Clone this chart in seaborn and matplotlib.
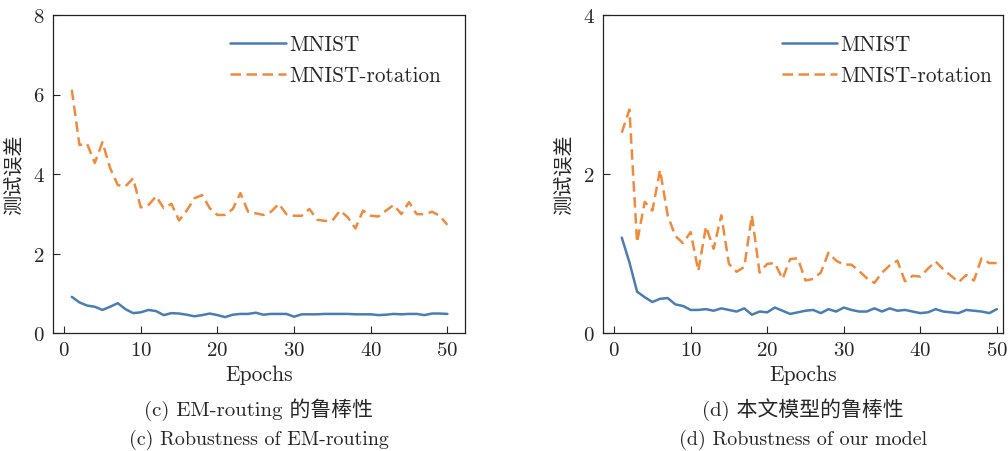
import numpy as np
import pandas as pd
import matplotlib
matplotlib.use("Agg")
import matplotlib.pyplot as plt
import seaborn as sns

epochs = list(range(1, 51))

em_mnist = [0.91, 0.77, 0.69, 0.66, 0.58, 0.66, 0.75, 0.60, 0.50, 0.52,
            0.58, 0.55, 0.45, 0.50, 0.49, 0.46, 0.42, 0.45, 0.49, 0.45,
            0.40, 0.46, 0.48, 0.48, 0.51, 0.46, 0.48, 0.48, 0.48, 0.41,
            0.47, 0.47, 0.47, 0.48, 0.48, 0.48, 0.48, 0.47, 0.47, 0.47,
            0.45, 0.46, 0.48, 0.47, 0.48, 0.48, 0.45, 0.49, 0.49, 0.48]
em_rot = [6.12, 4.73, 4.76, 4.28, 4.80, 4.15, 3.72, 3.69, 3.89, 3.16,
          3.22, 3.44, 3.14, 3.25, 2.83, 3.08, 3.39, 3.47, 3.14, 2.97,
          2.97, 3.12, 3.52, 3.05, 3.01, 2.97, 3.05, 3.25, 2.99, 2.95,
          2.95, 3.12, 2.85, 2.82, 2.83, 3.08, 2.91, 2.63, 3.08, 2.95,
          2.93, 3.08, 3.22, 2.99, 3.29, 2.99, 2.99, 3.05, 2.95, 2.72]

our_mnist = [1.20, 0.89, 0.52, 0.45, 0.39, 0.43, 0.44, 0.36, 0.34, 0.29,
             0.29, 0.30, 0.28, 0.31, 0.29, 0.27, 0.31, 0.23, 0.27, 0.26,
             0.32, 0.28, 0.24, 0.26, 0.28, 0.29, 0.25, 0.30, 0.27, 0.32,
             0.29, 0.27, 0.27, 0.31, 0.27, 0.31, 0.28, 0.29, 0.27, 0.25,
             0.26, 0.30, 0.27, 0.26, 0.25, 0.29, 0.28, 0.27, 0.25, 0.30]
our_rot = [2.52, 2.81, 1.14, 1.65, 1.54, 2.05, 1.48, 1.22, 1.13, 1.27,
           0.78, 1.34, 1.06, 1.48, 0.87, 0.77, 0.83, 1.48, 0.76, 0.87,
           0.88, 0.68, 0.93, 0.94, 0.66, 0.68, 0.76, 1.01, 0.91, 0.86,
           0.86, 0.78, 0.69, 0.63, 0.76, 0.85, 0.91, 0.65, 0.72, 0.71,
           0.81, 0.90, 0.80, 0.72, 0.64, 0.73, 0.66, 0.94, 0.88, 0.88]

series_names = ["MNIST", "MNIST-rotation"]
y_label = "测试误差"
x_label = "Epochs"
captions_left = ["(c) EM-routing 的鲁棒性", "(c) Robustness of EM-routing"]
captions_right = ["(d) 本文模型的鲁棒性", "(d) Robustness of our model"]

sns.set_style("ticks")
plt.rcParams["font.family"] = ["cmr10", "Noto Sans CJK SC", "DejaVu Serif"]
plt.rcParams["axes.formatter.use_mathtext"] = True
plt.rcParams["mathtext.fontset"] = "cm"

BLUE = "#4a7db4"
ORANGE = "#f08a3c"


def make_df(a, b):
    return pd.DataFrame({
        "Epoch": epochs * 2,
        "err": a + b,
        "series": [series_names[0]] * len(a) + [series_names[1]] * len(b),
    })


fig = plt.figure(figsize=(10.08, 4.52), dpi=100)
ax1 = fig.add_axes([53 / 1008, 1 - 334 / 452, 412 / 1008, 318 / 452])
ax2 = fig.add_axes([603 / 1008, 1 - 334 / 452, 400 / 1008, 318 / 452])

panels = [
    (ax1, make_df(em_mnist, em_rot), (-1.45, 52.3), 8, [0, 2, 4, 6, 8], captions_left, 0.41),
    (ax2, make_df(our_mnist, our_rot), (-1.45, 50.8), 4, [0, 2, 4], captions_right, 0.425),
]

for ax, df, xl, ymax, yt, caps, lx in panels:
    sns.lineplot(data=df, x="Epoch", y="err", hue="series", style="series",
                 palette=[BLUE, ORANGE], dashes=[(None, None), (4.2, 2.2)],
                 linewidth=1.8, ax=ax, legend=True)
    ax.set_xlim(*xl)
    ax.set_ylim(0, ymax)
    ax.set_xticks([0, 10, 20, 30, 40, 50])
    ax.set_yticks(yt)
    ax.tick_params(direction="in", length=5, width=0.8, labelsize=15,
                   top=False, right=False, pad=6)
    for s in ax.spines.values():
        s.set_visible(True)
        s.set_linewidth(0.9)
        s.set_color("#222222")
    ax.set_xlabel(x_label, fontsize=15.5, labelpad=4)
    ax.set_ylabel(y_label, fontsize=14.5, labelpad=6,
                  family=["Noto Sans CJK SC", "DejaVu Sans"])
    leg = ax.legend(loc="upper left", bbox_to_anchor=(lx, 0.965), frameon=False,
                    fontsize=15.3, handlelength=2.6, handletextpad=0.15,
                    labelspacing=0.55, borderaxespad=0)
    pos = ax.get_position()
    cx = pos.x0 + pos.width / 2
    fig.text(cx, 1 - 410 / 452, caps[0], ha="center", va="center", fontsize=15,
             family=["cmr10", "Noto Sans CJK SC"])
    fig.text(cx, 1 - 440 / 452, caps[1], ha="center", va="center", fontsize=14.4,
             family=["cmr10", "Noto Sans CJK SC"])

fig.savefig("out.png", dpi=100)
